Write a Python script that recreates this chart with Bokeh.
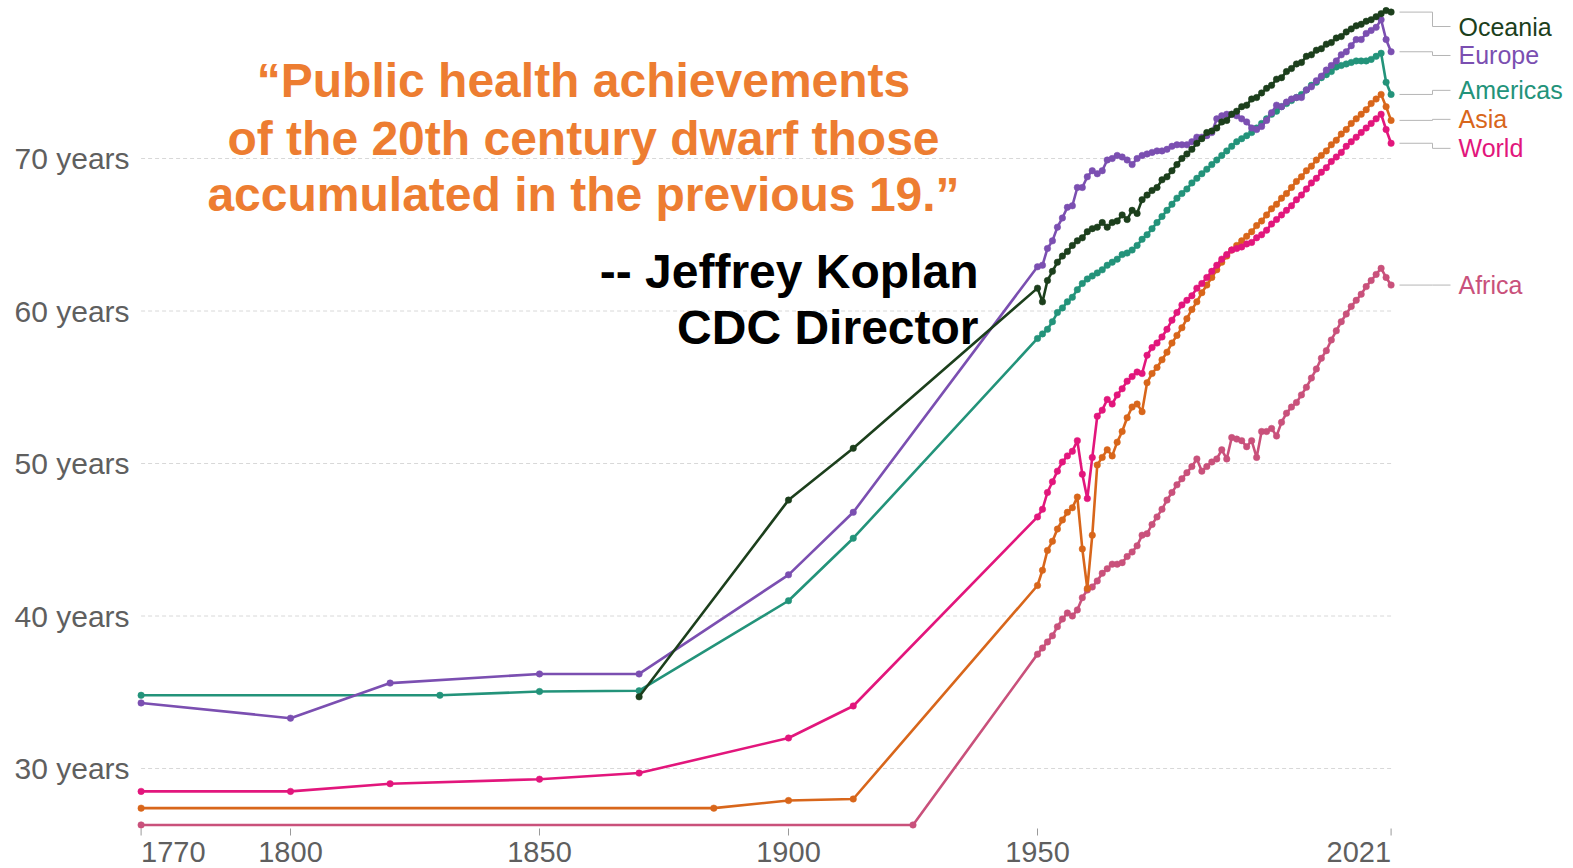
from bokeh.plotting import figure
from bokeh.models import Range1d, ColumnDataSource
from bokeh.core.properties import value
from bokeh.embed import file_html
from bokeh.resources import INLINE

# ---------------------------------------------------------------------------
# Life expectancy at birth (years), by world region
# ---------------------------------------------------------------------------
annual_years = list(range(1950, 2022))

oceania_early_years = [1870, 1900, 1913]
oceania_early = [34.7, 47.6, 51.0]
oceania_annual = [
    61.5, 60.6, 62.0, 62.6, 63.2, 63.6, 63.9, 64.3, 64.6, 64.8,
    65.2, 65.4, 65.5, 65.8, 65.5, 65.8, 65.9, 66.3, 66.0, 66.6,
    66.4, 67.3, 67.6, 67.9, 68.1, 68.6, 68.8, 69.2, 69.6, 70.0,
    70.3, 70.6, 71.0, 71.3, 71.7, 71.8, 72.0, 72.4, 72.5, 72.9,
    73.1, 73.4, 73.5, 73.9, 74.0, 74.3, 74.6, 74.8, 75.2, 75.3,
    75.7, 75.9, 76.2, 76.3, 76.7, 76.8, 77.1, 77.2, 77.5, 77.6,
    77.9, 78.0, 78.3, 78.5, 78.7, 78.8, 79.0, 79.1, 79.3, 79.5,
    79.7, 79.6,
]

europe_early_years = [1770, 1800, 1820, 1850, 1870, 1900, 1913]
europe_early = [34.3, 33.3, 35.6, 36.2, 36.2, 42.7, 46.8]
europe_annual = [
    62.9, 63.0, 64.1, 64.6, 65.5, 66.1, 66.8, 66.9, 68.1, 68.1,
    68.8, 69.2, 69.0, 69.2, 69.9, 70.0, 70.2, 70.1, 69.9, 69.6,
    70.0, 70.2, 70.3, 70.4, 70.5, 70.5, 70.6, 70.8, 70.9, 70.9,
    70.9, 71.1, 71.4, 71.4, 71.5, 71.7, 72.6, 72.8, 72.9, 72.9,
    72.8, 72.6, 72.4, 72.0, 71.9, 72.1, 72.5, 73.0, 73.5, 73.4,
    73.7, 73.9, 74.0, 74.0, 74.5, 74.7, 75.1, 75.4, 75.8, 76.1,
    76.4, 76.8, 77.0, 77.4, 77.8, 77.8, 78.2, 78.4, 78.6, 79.1,
    77.8, 77.0,
]

americas_early_years = [1770, 1830, 1850, 1870, 1900, 1913]
americas_early = [34.8, 34.8, 35.05, 35.1, 41.0, 45.1]
americas_annual = [
    58.2, 58.5, 58.8, 59.3, 59.9, 60.2, 60.6, 60.9, 61.4, 61.8,
    62.1, 62.3, 62.5, 62.7, 63.0, 63.2, 63.4, 63.7, 63.8, 64.0,
    64.3, 64.7, 65.0, 65.4, 65.8, 66.2, 66.6, 67.0, 67.4, 67.7,
    68.0, 68.4, 68.7, 69.0, 69.3, 69.6, 69.9, 70.2, 70.5, 70.8,
    71.1, 71.3, 71.5, 71.7, 72.0, 72.3, 72.6, 72.9, 73.1, 73.4,
    73.6, 73.8, 74.0, 74.2, 74.5, 74.8, 75.0, 75.3, 75.5, 75.7,
    76.0, 76.1, 76.2, 76.3, 76.4, 76.4, 76.4, 76.5, 76.7, 76.9,
    75.0, 74.2,
]

asia_early_years = [1770, 1885, 1900, 1913]
asia_early = [27.4, 27.4, 27.9, 28.0]
asia_annual = [
    42.0, 43.0, 44.3, 44.9, 45.7, 46.3, 46.8, 47.1, 47.8, 44.4,
    41.8, 45.3, 49.9, 50.4, 50.9, 50.5, 51.4, 52.1, 53.0, 53.7,
    53.9, 53.4, 55.3, 55.9, 56.3, 56.8, 57.3, 57.9, 58.4, 58.9,
    59.5, 60.1, 60.6, 61.2, 61.7, 62.2, 62.7, 63.2, 63.6, 64.0,
    64.3, 64.6, 64.9, 65.2, 65.6, 65.9, 66.3, 66.7, 67.0, 67.4,
    67.7, 68.1, 68.5, 68.8, 69.2, 69.5, 69.9, 70.2, 70.5, 70.9,
    71.2, 71.6, 71.9, 72.3, 72.6, 72.9, 73.2, 73.6, 73.9, 74.2,
    73.4, 72.5,
]

world_early_years = [1770, 1800, 1820, 1850, 1870, 1900, 1913]
world_early = [28.5, 28.5, 29.0, 29.3, 29.7, 32.0, 34.1]
world_annual = [
    46.5, 47.0, 48.1, 48.8, 49.5, 50.1, 50.5, 50.8, 51.5, 49.3,
    47.7, 50.4, 53.1, 53.5, 54.2, 53.9, 54.5, 54.9, 55.4, 55.7,
    56.0, 55.9, 57.1, 57.6, 57.9, 58.3, 58.8, 59.4, 59.9, 60.4,
    60.7, 61.0, 61.5, 61.8, 62.2, 62.6, 63.0, 63.4, 63.7, 64.0,
    64.1, 64.2, 64.4, 64.5, 64.8, 65.0, 65.3, 65.7, 66.0, 66.3,
    66.6, 66.9, 67.3, 67.6, 68.0, 68.4, 68.7, 69.1, 69.4, 69.8,
    70.1, 70.4, 70.8, 71.1, 71.4, 71.7, 72.0, 72.3, 72.6, 72.9,
    71.9, 71.0,
]

africa_early_years = [1770, 1925]
africa_early = [26.3, 26.3]
africa_annual = [
    37.5, 37.9, 38.3, 38.7, 39.3, 39.8, 40.2, 40.0, 40.4, 41.2,
    41.7, 41.9, 42.3, 42.8, 43.1, 43.4, 43.4, 43.5, 43.9, 44.2,
    44.6, 45.3, 45.4, 46.0, 46.5, 47.0, 47.6, 48.1, 48.6, 49.0,
    49.4, 49.8, 50.3, 49.5, 49.8, 50.1, 50.3, 50.9, 50.3, 51.7,
    51.6, 51.5, 51.1, 51.5, 50.4, 52.1, 52.1, 52.3, 51.8, 52.7,
    53.3, 53.7, 54.0, 54.5, 55.0, 55.6, 56.2, 56.9, 57.4, 58.1,
    58.7, 59.3, 59.8, 60.3, 60.7, 61.1, 61.6, 62.0, 62.4, 62.8,
    62.2, 61.7,
]

region_names = ["Oceania", "Europe", "Americas", "Asia", "World", "Africa"]
region_colors = ["#1c3f1c", "#7b4fb1", "#23937a", "#d8661b", "#e2167c", "#c9517b"]

y_ticks = [30, 40, 50, 60, 70]
y_tick_labels = ["30 years", "40 years", "50 years", "60 years", "70 years"]
x_ticks = [1770, 1800, 1850, 1900, 1950, 2021]
x_tick_labels = ["1770", "1800", "1850", "1900", "1950", "2021"]

quote_lines = [
    "\u201cPublic health achievements",
    "of the 20th century dwarf those",
    "accumulated in the previous 19.\u201d",
]
source_lines = ["-- Jeffrey Koplan", "CDC Director"]

# ---------------------------------------------------------------------------
# Canvas geometry: the plot frame fills the whole canvas
# ---------------------------------------------------------------------------
W, H = 1573, 868
PX_PER_YEAR = 4.98        # horizontal scale
PX_PER_AGE = 15.25        # vertical scale
X_LEFT_PX = 140.6         # where 1770 sits
Y_30_PX = 768.0           # where the 30-year gridline sits

x_start = 1770 - X_LEFT_PX / PX_PER_YEAR
x_end = x_start + W / PX_PER_YEAR
y_top = 30 + Y_30_PX / PX_PER_AGE
y_bottom = y_top - H / PX_PER_AGE


def px_to_year(px):
    return x_start + px / PX_PER_YEAR


def px_to_age(py):
    return y_top - py / PX_PER_AGE


FONT = value("Liberation Sans")
AXIS_GREY = "#5f5f5f"

p = figure(
    width=W, height=H,
    x_range=Range1d(x_start, x_end), y_range=Range1d(y_bottom, y_top),
    x_axis_location=None, y_axis_location=None,
    toolbar_location=None, output_backend="svg",
    min_border=0, outline_line_color=None,
    background_fill_color="white", border_fill_color="white",
)
p.xgrid.visible = False
p.ygrid.visible = False

# dashed horizontal gridlines over the data span
p.segment(x0=[x_ticks[0]] * len(y_ticks), x1=[x_ticks[-1]] * len(y_ticks),
          y0=y_ticks, y1=y_ticks, line_color="#d8d8d8", line_width=1,
          line_dash="4 3")

# y tick labels
p.text(x=[px_to_year(14)] * len(y_ticks), y=y_ticks, text=y_tick_labels,
       text_font=FONT, text_font_size="30px", text_color=AXIS_GREY,
       text_align="left", text_baseline="middle")

# x tick marks and labels
p.segment(x0=x_ticks, x1=x_ticks, y0=[px_to_age(828)] * len(x_ticks),
          y1=[px_to_age(835)] * len(x_ticks), line_color="#9a9a9a", line_width=1)
lab_y = px_to_age(851)
p.text(x=x_ticks[:1], y=[lab_y], text=x_tick_labels[:1], text_font=FONT,
       text_font_size="29px", text_color=AXIS_GREY, text_align="left",
       text_baseline="middle")
p.text(x=x_ticks[1:-1], y=[lab_y] * (len(x_ticks) - 2), text=x_tick_labels[1:-1],
       text_font=FONT, text_font_size="29px", text_color=AXIS_GREY,
       text_align="center", text_baseline="middle")
p.text(x=x_ticks[-1:], y=[lab_y], text=x_tick_labels[-1:], text_font=FONT,
       text_font_size="29px", text_color=AXIS_GREY, text_align="right",
       text_baseline="middle")

# region series, drawn from the lowest up
series = {
    "Oceania": (oceania_early_years, oceania_early, oceania_annual),
    "Europe": (europe_early_years, europe_early, europe_annual),
    "Americas": (americas_early_years, americas_early, americas_annual),
    "Asia": (asia_early_years, asia_early, asia_annual),
    "World": (world_early_years, world_early, world_annual),
    "Africa": (africa_early_years, africa_early, africa_annual),
}
color_of = dict(zip(region_names, region_colors))

for name in ["Africa", "Asia", "World", "Americas", "Europe", "Oceania"]:
    early_years, early_vals, annual_vals = series[name]
    xs = early_years + annual_years
    ys = early_vals + annual_vals
    c = color_of[name]
    p.line(xs, ys, line_color=c, line_width=2.6, line_join="round")
    p.scatter(xs, ys, size=6.5, fill_color=c, line_color=c, line_width=0.5)

# end-of-line labels: overlapping neighbours are pushed apart symmetrically,
# and the top label is kept inside the canvas
end_vals = [series[n][2][-1] for n in region_names]
order = sorted(range(len(region_names)), key=lambda i: -end_vals[i])
gap = 29 / PX_PER_AGE
top_limit = px_to_age(26)
pos = {i: min(end_vals[i], top_limit) for i in order}
for _ in range(400):
    moved = False
    for a, b in zip(order[:-1], order[1:]):
        d = pos[a] - pos[b]
        if d < gap - 1e-6:
            shift = (gap - d) / 2
            pos[a] += shift
            pos[b] -= shift
            moved = True
    for i in order:
        if pos[i] > top_limit:
            pos[i] = top_limit
    if not moved:
        break
label_pos = [pos[i] for i in range(len(region_names))]

x_a = px_to_year(1399)
x_b = px_to_year(1432)
x_c = px_to_year(1450)
p.multi_line(
    xs=[[x_a, x_b, x_b, x_c] for _ in region_names],
    ys=[[e, e, l, l] for e, l in zip(end_vals, label_pos)],
    line_color="#b5b5b5", line_width=1,
)
label_src = ColumnDataSource(dict(
    x=[px_to_year(1458)] * len(region_names), y=label_pos,
    text=region_names, color=region_colors,
))
p.text(x="x", y="y", text="text", text_color="color", source=label_src,
       text_font=FONT, text_font_size="25px", text_align="left",
       text_baseline="middle")

# quotation
quote_x = px_to_year(583)
p.text(x=[quote_x] * 3, y=[px_to_age(80), px_to_age(137.5), px_to_age(194)],
       text=quote_lines, text_font=FONT, text_font_style="bold",
       text_font_size="48px", text_color="#ed7d31", text_align="center",
       text_baseline="middle")
p.text(x=[px_to_year(978)] * 2, y=[px_to_age(271), px_to_age(327)],
       text=source_lines, text_font=FONT, text_font_style="bold",
       text_font_size="48px", text_color="#000000", text_align="right",
       text_baseline="middle")

open("out.html", "w").write(file_html(p, INLINE))
